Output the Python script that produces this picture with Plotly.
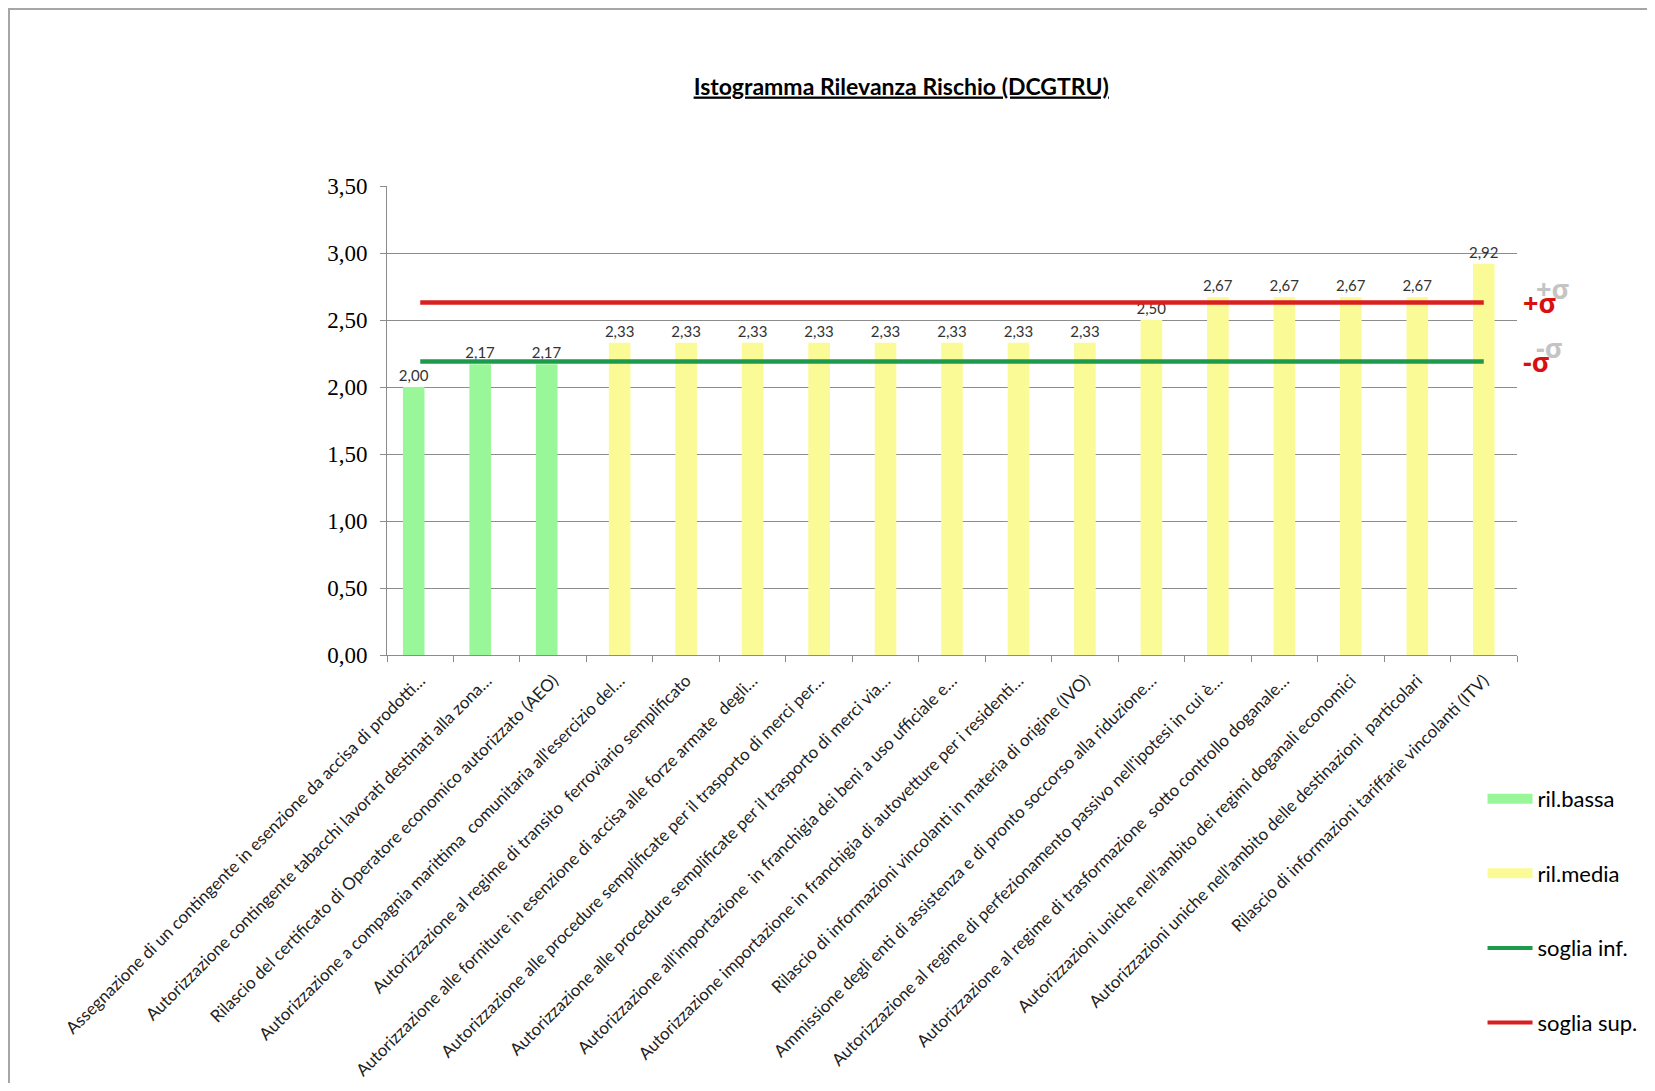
import plotly.graph_objects as go

categories = [
    "Assegnazione di un contingente in esenzione da accisa di prodotti…",
    "Autorizzazione contingente tabacchi lavorati destinati alla zona…",
    "Rilascio del certificato di Operatore economico autorizzato (AEO)",
    "Autorizzazione a compagnia marittima  comunitaria all'esercizio del…",
    "Autorizzazione al regime di transito  ferroviario semplificato",
    "Autorizzazione alle forniture in esenzione di accisa alle forze armate  degli…",
    "Autorizzazione alle procedure semplificate per il trasporto di merci per…",
    "Autorizzazione alle procedure semplificate per il trasporto di merci via…",
    "Autorizzazione all'importazione  in franchigia dei beni a uso ufficiale e…",
    "Autorizzazione importazione in franchigia di autovetture per i residenti…",
    "Rilascio di informazioni vincolanti in materia di origine (IVO)",
    "Ammissione degli enti di assistenza e di pronto soccorso alla riduzione…",
    "Autorizzazione al regime di perfezionamento passivo nell'ipotesi in cui è…",
    "Autorizzazione al regime di trasformazione  sotto controllo doganale…",
    "Autorizzazioni uniche nell'ambito dei regimi doganali economici",
    "Autorizzazioni uniche nell'ambito delle destinazioni  particolari",
    "Rilascio di informazioni tariffarie vincolanti (ITV)",
]
values = [2.00, 2.17, 2.17, 2.33, 2.33, 2.33, 2.33, 2.33, 2.33, 2.33, 2.33,
          2.50, 2.67, 2.67, 2.67, 2.67, 2.92]
n_bassa = 3  # first bars are "ril.bassa", the rest "ril.media"
soglia_inf = 2.19
soglia_sup = 2.63

GREEN_BAR = '#99F799'
YELLOW_BAR = '#FAFA96'
GREEN_LINE = '#1E9A4C'
RED_LINE = '#D91F1F'
SANS = 'Lato, Open Sans, sans-serif'
BAR_W = 0.325

fig = go.Figure()

bar_style = dict(texttemplate='%{y:.2f}', textposition='outside', constraintext='none',
                 cliponaxis=False, textfont=dict(family=SANS, size=15, color='#333333'),
                 showlegend=False, hoverinfo='x+y', width=BAR_W)
# green series sits slightly left of the category centre, as in the Excel cluster
fig.add_trace(go.Bar(x=categories[:n_bassa], y=values[:n_bassa], name='ril.bassa',
                     offset=-BAR_W / 2 - 0.098,
                     marker=dict(color=GREEN_BAR, line=dict(width=0)), **bar_style))
fig.add_trace(go.Bar(x=categories[n_bassa:], y=values[n_bassa:], name='ril.media',
                     marker=dict(color=YELLOW_BAR, line=dict(width=0)), **bar_style))

fig.add_trace(go.Scatter(x=categories, y=[soglia_inf] * len(categories), mode='lines',
                         line=dict(color=GREEN_LINE, width=4.5), showlegend=False, hoverinfo='y'))
fig.add_trace(go.Scatter(x=categories, y=[soglia_sup] * len(categories), mode='lines',
                         line=dict(color=RED_LINE, width=4.5), showlegend=False, hoverinfo='y'))

# legend entries (wide swatches like the Excel legend)
legend_items = [('ril.bassa', GREEN_BAR, 13), ('ril.media', YELLOW_BAR, 13),
                ('soglia inf.', GREEN_LINE, 4), ('soglia sup.', RED_LINE, 4)]
for name, color, w in legend_items:
    fig.add_trace(go.Scatter(x=[None], y=[None], mode='lines', name=name, legendgroup=name,
                             line=dict(color=color, width=w)))

# sigma markers at the end of the threshold lines (grey shadow + red)
for label, yval, xpos in [('+σ', soglia_sup, 1.036), ('-σ', soglia_inf, 1.031)]:
    fig.add_annotation(x=xpos, xref='paper', y=yval, yref='y', text='<b>' + label + '</b>',
                       showarrow=False, xshift=13, yshift=14,
                       font=dict(family='Open Sans', size=27, color='#C4C4C4'))
    fig.add_annotation(x=xpos, xref='paper', y=yval, yref='y', text='<b>' + label + '</b>',
                       showarrow=False, font=dict(family='Open Sans', size=27, color='#D81010'))

# outer chart frame
fig.add_shape(type='rect', xref='paper', yref='paper', x0=-0.3345, x1=1.2, y0=-1.0, y1=1.3774,
              line=dict(color='#A6A6A6', width=2), layer='below')

fig.update_layout(
    width=1639, height=1075,
    margin=dict(l=379, r=130, t=178, b=428, autoexpand=False),
    paper_bgcolor='white', plot_bgcolor='white',
    separators=',.',
    barmode='overlay',
    title=dict(text='<b><u>Istogramma Rilevanza Rischio (DCGTRU)</u></b>', x=0.545, y=0.927,
               xanchor='center', yanchor='middle',
               font=dict(family=SANS, size=23, color='black')),
    legend=dict(x=0.9695, y=-0.262, xanchor='left', yanchor='top', tracegroupgap=43,
                font=dict(family=SANS, size=22, color='black'), bgcolor='rgba(0,0,0,0)',
                itemwidth=45),
    font=dict(family=SANS),
)
fig.update_xaxes(type='category', categoryorder='array', categoryarray=categories,
                 tickangle=-45, tickfont=dict(family=SANS, size=17, color='#222222'),
                 ticklabelstandoff=8,
                 showline=True, linecolor='#8C8C8C', linewidth=1,
                 ticks='outside', tickson='boundaries', ticklen=6, tickcolor='#8C8C8C',
                 showgrid=False, automargin=False)
fig.update_yaxes(range=[0, 3.5], dtick=0.5, tickformat='.2f',
                 tickfont=dict(family='Liberation Serif', size=23, color='black'),
                 ticklabelstandoff=8,
                 showline=True, linecolor='#8C8C8C', linewidth=1,
                 ticks='outside', ticklen=6, tickcolor='#8C8C8C',
                 showgrid=True, gridcolor='#8C8C8C', gridwidth=1, zeroline=False,
                 automargin=False)

fig.write_html("out.html")
